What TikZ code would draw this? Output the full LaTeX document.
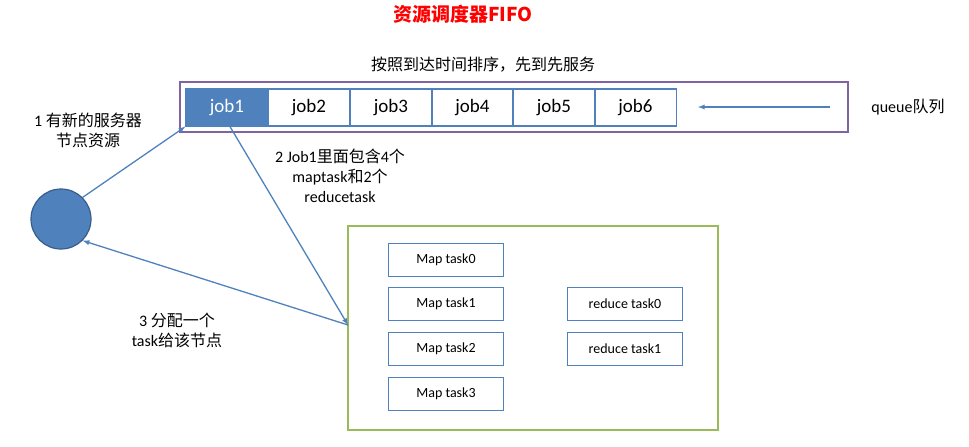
\documentclass[tikz,border=0pt]{standalone}
\usepackage{fontspec}
\setmainfont{Carlito}
\newfontfamily\cjk{Noto Sans CJK SC}
\definecolor{jb}{HTML}{4F81BD}
\definecolor{jbd}{HTML}{385D8A}
\definecolor{gr}{HTML}{9BBB59}
\definecolor{pu}{HTML}{8064A2}
\begin{document}
\begin{tikzpicture}[x=1pt,y=-1pt,
  job/.style={draw=jb,line width=1.2pt,minimum width=82pt,minimum height=37pt,inner sep=0pt,font=\fontsize{19}{21}\selectfont},
  task/.style={draw=jb,line width=1pt,minimum width=115pt,minimum height=33pt,inner sep=0pt,font=\fontsize{14}{16}\selectfont},
  arr/.style={draw=jb,line width=1.3pt,-latex},
  lab/.style={align=center,font=\fontsize{16}{20}\selectfont}]
\useasboundingbox (0,0) rectangle (969,447);
\node[text=red,font=\cjk\bfseries\fontsize{19}{22}\selectfont] (title) at (463,14) {资源调度器FIFO};
\node[font=\cjk\fontsize{16}{19}\selectfont] (sort) at (483,65) {按照到达时间排序，先到先服务};
\node[draw=pu,line width=1.5pt,minimum width=668pt,minimum height=50pt,inner sep=0pt] (queue) at (514,107) {};
\node[job,fill=jb,text=white] (j1) at (227,107.5) {job1};
\node[job] (j2) at (309,107.5) {job2};
\node[job] (j3) at (391,107.5) {job3};
\node[job] (j4) at (472.5,107.5) {job4};
\node[job] (j5) at (554,107.5) {job5};
\node[job] (j6) at (635.5,107.5) {job6};
\coordinate (qs) at (830,107);
\coordinate (qe) at (698,107);
\draw[arr] (qs) -- (qe);
\node[lab] (ql) at (908,107) {queue{\cjk 队列}};
\node[circle,draw=jbd,fill=jb,line width=1.2pt,minimum size=60pt] (c) at (61,219) {};
\node[draw=gr,line width=1.5pt,minimum width=370pt,minimum height=204pt,inner sep=0pt] (g) at (533,328) {};
\node[task] (m0) at (446,259.5) {Map task0};
\node[task] (m1) at (446,304) {Map task1};
\node[task] (m2) at (446,348.5) {Map task2};
\node[task] (m3) at (446,393.5) {Map task3};
\node[task] (r0) at (625,304) {reduce task0};
\node[task] (r1) at (625,348.5) {reduce task1};
\draw[arr] (c.45) -- (j1.south west);
\coordinate (ge) at (348,325);
\draw[arr] (j1.south) ++(3,0) -- (ge);
\draw[arr] (ge) -- (c.-45);
\node[lab] (l1) at (88,130) {1 {\cjk 有新的服务器}\\{\cjk 节点资源}};
\node[lab] (l2) at (340,176) {2 Job1{\cjk 里面包含}4{\cjk 个}\\maptask{\cjk 和}2{\cjk 个}\\reducetask};
\node[lab] (l3) at (177,330) {3 {\cjk 分配一个}\\task{\cjk 给该节点}};
\end{tikzpicture}
\end{document}
